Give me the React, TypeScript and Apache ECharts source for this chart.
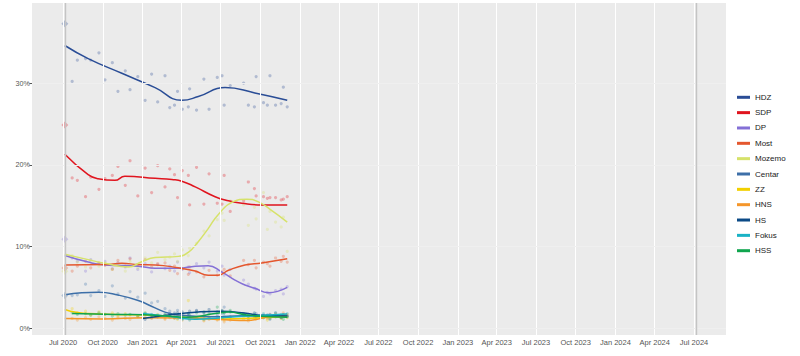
import { useEffect, useRef } from "react";
import * as echarts from "echarts";

const parties = ["HDZ", "SDP", "DP", "Most", "Mozemo", "Centar", "ZZ", "HNS", "HS", "Fokus", "HSS"];
const partyColors = ["#2A4D96", "#E0141E", "#8470D6", "#E4572E", "#D6E26A", "#3D6FA8", "#F2D000", "#F5962A", "#0B4A86", "#19B2C5", "#10A54E"];

const pollDates = [
  "2020-07-22", "2020-08-03", "2020-08-22", "2020-09-03", "2020-09-22", "2020-10-06", "2020-10-23", "2020-11-05",
  "2020-11-22", "2020-12-03", "2020-12-21", "2021-01-07", "2021-01-22", "2021-02-05", "2021-02-22", "2021-03-05",
  "2021-03-16", "2021-03-23", "2021-04-03", "2021-04-17", "2021-04-20", "2021-05-06", "2021-05-23", "2021-06-04",
  "2021-06-23", "2021-07-04", "2021-07-09", "2021-07-23", "2021-08-23", "2021-09-03", "2021-09-17", "2021-09-21",
  "2021-10-08", "2021-10-17", "2021-10-23", "2021-11-05", "2021-11-18", "2021-11-23", "2021-12-02",
];

const hdzPolls = [30.2, 32.8, 33.0, 32.8, 33.7, 30.4, 32.5, 29.0, 31.5, 29.2, 30.8, 27.9, 31.1, 27.7, 30.9, 27.0, 27.3, 29.0, 26.8, 27.1, 29.3, 26.7, 30.5, 26.8, 30.7, 30.9, 27.3, 29.7, 30.0, 27.3, 27.1, 30.8, 27.6, 27.3, 30.9, 27.3, 27.5, 29.5, 27.1];
const sdpPolls = [18.4, 18.1, 16.1, 18.5, 17.0, 18.3, 18.7, 19.8, 17.5, 20.5, 16.2, 19.6, 16.6, 19.9, 17.3, 19.5, 18.8, 16.0, 19.3, 18.7, 15.1, 19.7, 15.2, 18.9, 15.3, 15.2, 18.7, 14.3, 15.6, 17.9, 17.1, 16.2, 16.1, 15.9, 16.0, 16.0, 15.7, 15.8, 16.1];
const dpPolls = [8.6, 8.2, 7.0, 8.4, 7.9, 8.2, 7.3, 8.0, 7.5, 8.6, 7.2, 7.9, 6.9, 7.8, 7.3, 7.6, 7.0, 8.1, 7.2, 7.5, 6.8, 7.9, 7.4, 8.1, 7.0, 7.6, 6.5, 7.2, 5.9, 5.4, 4.9, 4.8, 3.9, 4.4, 4.2, 4.6, 4.8, 4.2, 5.1];
const mostPolls = [7.0, 7.6, 8.2, 7.4, 8.0, 7.7, 7.2, 8.3, 7.6, 8.5, 7.8, 8.4, 7.5, 7.9, 8.0, 7.1, 7.6, 6.7, 7.3, 6.6, 7.5, 6.9, 6.3, 7.1, 6.5, 6.9, 7.2, 6.4, 8.3, 7.8, 8.3, 7.4, 8.1, 7.9, 7.6, 8.6, 8.2, 8.8, 8.1];
const mozemoPolls = [8.9, 8.1, 7.5, 8.3, 7.6, 8.0, 7.2, 7.8, 7.0, 8.2, 7.4, 8.6, 8.0, 9.3, 8.4, 8.7, 9.1, 8.2, 9.6, 8.9, 9.8, 10.4, 11.9, 11.3, 13.3, 14.1, 13.2, 15.6, 15.1, 12.6, 14.8, 13.4, 16.6, 12.1, 14.3, 13.0, 12.4, 13.6, 9.4];
const centarPolls = [4.0, 4.1, 5.4, 4.0, 4.6, 3.9, 5.2, 4.2, 3.7, 4.5, 3.8, 4.3, 3.1, 3.3, 2.4, 2.1, 1.9, 2.2, 1.6, 1.8, 1.3, 2.1, 1.5, 1.2, 1.6, 1.8, 2.6, 1.4, 1.7, 1.2, 1.5, 1.8, 1.3, 1.6, 1.1, 1.9, 1.4, 1.7, 1.5];
const zzPolls = [2.4, 1.9, 2.1, 1.6, 2.0, 1.7, 1.9, 1.5, 1.8, 1.6, 1.4, 1.9, 1.5, 1.7, 1.2, 1.6, 1.4, 1.1, 1.5, 3.4, 1.2, 1.3, 1.0, 1.4, 1.1, 1.2, 1.0, 1.3, 1.4, 1.1, 1.3, 1.2, 1.5, 1.0, 1.3, 1.6, 1.2, 1.5, 1.3];
const hnsPolls = [1.2, 1.0, 1.3, 1.1, 1.4, 1.2, 1.0, 1.3, 1.2, 1.1, 1.5, 1.3, 1.2, 1.4, 1.1, 1.3, 1.2, 1.4, 1.0, 1.3, 1.1, 1.2, 0.9, 1.1, 1.0, 1.2, 0.8, 1.0, 1.1, 0.9, 1.3, 1.4, 1.5, 1.2, 1.6, 1.8, 1.5, 1.9, 1.7];
const hsPolls = [null, null, null, null, null, null, null, null, null, null, null, 1.1, 1.3, 1.5, 1.6, 1.8, 1.7, 1.9, 2.0, 1.8, 2.1, 2.2, 1.9, 2.3, 2.0, 2.2, 1.9, 2.0, 1.8, 1.7, 1.9, 1.5, 1.6, 1.4, 1.7, 1.5, 1.3, 1.6, 1.5];
const fokusPolls = [null, null, null, null, null, null, null, null, null, null, null, 1.9, 1.7, 1.6, 1.4, 1.5, 1.3, 1.2, 1.1, 1.3, 1.0, 1.2, 1.1, 1.3, 1.4, 1.2, 1.5, 1.4, 1.6, 1.5, 1.7, 1.4, 1.8, 1.6, 1.5, 1.9, 1.7, 1.6, 1.8];
const hssPolls = [1.9, 1.7, 1.8, 1.6, 1.9, 1.7, 1.5, 1.8, 1.6, 1.7, 1.5, 1.8, 1.6, 1.4, 1.7, 1.5, 1.3, 1.6, 1.2, 1.4, 1.6, 1.9, 2.0, 1.8, 2.6, 2.1, 1.9, 2.2, 1.7, 1.5, 1.6, 1.4, 1.3, 1.5, 1.2, 1.4, 1.3, 1.1, 1.4];

const hdzTrend: [string, number][] = [["2020-07-05", 34.6], ["2020-08-28", 33.0], ["2020-11-14", 31.2], ["2021-01-30", 29.45], ["2021-04-02", 27.9], ["2021-05-10", 28.35], ["2021-07-11", 29.45], ["2021-09-18", 28.8], ["2021-12-02", 27.9]];
const sdpTrend: [string, number][] = [["2020-07-05", 21.3], ["2020-08-28", 18.8], ["2020-09-20", 18.3], ["2020-10-29", 18.1], ["2020-11-21", 18.6], ["2021-01-30", 18.35], ["2021-03-10", 18.2], ["2021-04-02", 18.0], ["2021-05-03", 17.3], ["2021-06-18", 16.1], ["2021-07-19", 15.6], ["2021-08-19", 15.3], ["2021-10-04", 15.1], ["2021-12-02", 15.1]];
const dpTrend: [string, number][] = [["2020-07-05", 8.9], ["2020-08-28", 8.1], ["2020-10-06", 7.75], ["2020-12-22", 7.6], ["2021-01-30", 7.35], ["2021-03-25", 7.35], ["2021-05-03", 7.6], ["2021-06-02", 7.65], ["2021-07-03", 6.9], ["2021-08-03", 5.9], ["2021-08-26", 5.3], ["2021-09-18", 4.9], ["2021-10-19", 4.35], ["2021-12-02", 5.0]];
const mostTrend: [string, number][] = [["2020-07-05", 7.75], ["2020-10-06", 7.8], ["2020-11-14", 7.95], ["2020-12-22", 7.8], ["2021-01-30", 7.75], ["2021-03-25", 7.4], ["2021-05-03", 7.0], ["2021-06-02", 6.5], ["2021-06-25", 6.5], ["2021-07-19", 7.1], ["2021-08-26", 7.75], ["2021-10-04", 8.0], ["2021-12-02", 8.5]];
const mozemoTrend: [string, number][] = [["2020-07-05", 9.05], ["2020-08-28", 8.4], ["2020-10-06", 7.95], ["2020-11-29", 7.5], ["2020-12-30", 8.15], ["2021-01-30", 8.65], ["2021-03-25", 8.8], ["2021-04-17", 9.3], ["2021-05-10", 10.6], ["2021-06-02", 12.2], ["2021-06-25", 13.9], ["2021-07-30", 15.5], ["2021-08-30", 15.8], ["2021-09-25", 15.5], ["2021-10-25", 14.5], ["2021-12-02", 13.0]];
const centarTrend: [string, number][] = [["2020-07-05", 4.1], ["2020-08-13", 4.36], ["2020-09-21", 4.4], ["2020-11-05", 4.07], ["2020-12-22", 3.4], ["2021-01-30", 2.5], ["2021-03-05", 1.8], ["2021-04-17", 1.55], ["2021-06-18", 1.4], ["2021-08-19", 1.55], ["2021-10-04", 1.5], ["2021-12-02", 1.5]];
const zzTrend: [string, number][] = [["2020-07-05", 2.3], ["2020-07-31", 1.95], ["2020-08-28", 1.8], ["2020-11-01", 1.7], ["2021-01-30", 1.55], ["2021-04-17", 1.3], ["2021-07-11", 1.15], ["2021-09-18", 1.25], ["2021-12-02", 1.4]];
const hnsTrend: [string, number][] = [["2020-07-05", 1.2], ["2020-10-01", 1.15], ["2021-01-07", 1.3], ["2021-04-17", 1.25], ["2021-07-11", 1.05], ["2021-08-30", 0.95], ["2021-10-19", 1.4], ["2021-12-02", 1.7]];
const hsTrend: [string, number][] = [["2021-01-01", 1.2], ["2021-03-10", 1.7], ["2021-05-10", 2.0], ["2021-07-03", 2.1], ["2021-08-19", 1.9], ["2021-10-04", 1.6], ["2021-12-02", 1.5]];
const fokusTrend: [string, number][] = [["2021-01-01", 1.8], ["2021-03-10", 1.4], ["2021-05-03", 1.1], ["2021-07-03", 1.3], ["2021-09-18", 1.55], ["2021-12-02", 1.75]];
const hssTrend: [string, number][] = [["2020-07-22", 1.8], ["2020-11-01", 1.7], ["2021-01-30", 1.6], ["2021-04-17", 1.35], ["2021-06-18", 1.8], ["2021-07-19", 2.0], ["2021-09-03", 1.6], ["2021-12-02", 1.35]];

const electionDate = "2020-07-05";
const electionResults = [37.26, 24.87, 10.89, 7.39, 6.99, 4.0, null, null, null, null, null];
const electionMarkers = ["2020-07-05", "2024-07-05"];

const xTickDates = ["2020-07-01", "2020-10-01", "2021-01-01", "2021-04-01", "2021-07-01", "2021-10-01", "2022-01-01", "2022-04-01", "2022-07-01", "2022-10-01", "2023-01-01", "2023-04-01", "2023-07-01", "2023-10-01", "2024-01-01", "2024-04-01", "2024-07-01"];
const xTickLabels = ["Jul 2020", "Oct 2020", "Jan 2021", "Apr 2021", "Jul 2021", "Oct 2021", "Jan 2022", "Apr 2022", "Jul 2022", "Oct 2022", "Jan 2023", "Apr 2023", "Jul 2023", "Oct 2023", "Jan 2024", "Apr 2024", "Jul 2024"];
const yTicks = [0, 10, 20, 30];

const xStart = "2020-04-20";
const xEnd = "2024-09-13";
const yStart = -0.82;
const yEnd = 39.8;

const pollSets = [hdzPolls, sdpPolls, dpPolls, mostPolls, mozemoPolls, centarPolls, zzPolls, hnsPolls, hsPolls, fokusPolls, hssPolls];
const trendSets = [hdzTrend, sdpTrend, dpTrend, mostTrend, mozemoTrend, centarTrend, zzTrend, hnsTrend, hsTrend, fokusTrend, hssTrend];

const toTs = (s: string) => Date.UTC(+s.slice(0, 4), +s.slice(5, 7) - 1, +s.slice(8, 10));

export default function App() {
  const ref = useRef<HTMLDivElement>(null);
  useEffect(() => {
    if (!ref.current) return;
    const chart = echarts.init(ref.current, null, { renderer: "svg" });
    const tickTs = xTickDates.map(toTs);
    const labelFor = (v: number) => {
      const i = tickTs.indexOf(v);
      return i >= 0 ? xTickLabels[i] : "";
    };
    const font = "'Liberation Sans', Arial, sans-serif";

    const series: any[] = [];
    series.push({
      type: "line",
      name: "_grid",
      data: [],
      z: 1,
      silent: true,
      markLine: {
        silent: true,
        symbol: ["none", "none"],
        label: { show: false },
        animation: false,
        data: [
          ...tickTs.map((t) => ({ xAxis: t, lineStyle: { color: "#ffffff", width: 1, type: "solid" } })),
          ...yTicks.map((v) => ({ yAxis: v, lineStyle: { color: "#efefef", width: 1, type: "solid" } })),
          ...electionMarkers.map((d) => ({ xAxis: toTs(d), lineStyle: { color: "#c4c4c4", width: 1.4, type: "solid" } })),
        ],
      },
    });
    parties.forEach((p, i) => {
      series.push({
        type: "scatter",
        name: p + " polls",
        z: 2,
        symbol: "circle",
        symbolSize: 3.2,
        itemStyle: { color: partyColors[i], opacity: 0.3 },
        data: pollDates
          .map((d, j) => [toTs(d), pollSets[i][j]])
          .filter((pt) => pt[1] !== null),
      });
    });
    series.push({
      type: "scatter",
      name: "Election",
      z: 2,
      symbol: "diamond",
      symbolSize: 7,
      data: parties
        .map((p, i) => ({
          value: [toTs(electionDate), electionResults[i]],
          itemStyle: { color: partyColors[i], opacity: 0.32 },
        }))
        .filter((d) => d.value[1] !== null),
    });
    parties.forEach((p, i) => {
      series.push({
        type: "line",
        name: p,
        z: 3,
        smooth: 0.5,
        showSymbol: false,
        symbol: "none",
        color: partyColors[i],
        lineStyle: { color: partyColors[i], width: 1.5 },
        data: trendSets[i].map(([d, v]) => [toTs(d), v]),
      });
    });

    chart.setOption({
      animation: false,
      backgroundColor: "#ffffff",
      grid: {
        left: 32,
        right: 74,
        top: 3,
        bottom: 21,
        show: true,
        backgroundColor: "#ebebeb",
        borderWidth: 0,
      },
      legend: {
        data: parties.map((name) => ({ name, icon: "rect" })),
        orient: "vertical",
        left: 732,
        top: 86.3,
        itemWidth: 13,
        itemHeight: 3,
        itemGap: 3.34,
        textStyle: { fontSize: 8, color: "#222222", fontFamily: font, lineHeight: 12 },
      },
      xAxis: {
        type: "value",
        min: toTs(xStart),
        max: toTs(xEnd),
        axisLine: { show: false },
        splitLine: { show: false },
        axisTick: { show: true, customValues: tickTs, length: 2.5, lineStyle: { color: "#555555" } },
        axisLabel: {
          customValues: tickTs,
          formatter: (v: number) => labelFor(v),
          fontSize: 7.5,
          color: "#555555",
          fontFamily: font,
          margin: 3,
        },
      },
      yAxis: {
        type: "value",
        min: yStart,
        max: yEnd,
        axisLine: { show: false },
        splitLine: { show: false },
        axisTick: { show: true, customValues: yTicks, length: 2.5, lineStyle: { color: "#555555" } },
        axisLabel: {
          customValues: yTicks,
          formatter: (v: number) => v + "%",
          fontSize: 7.2,
          color: "#555555",
          fontFamily: font,
          margin: 2,
        },
      },
      series,
    });
    return () => chart.dispose();
  }, []);
  return <div ref={ref} style={{ position: "fixed", left: 0, top: 0, width: 800, height: 356 }} />;
}
